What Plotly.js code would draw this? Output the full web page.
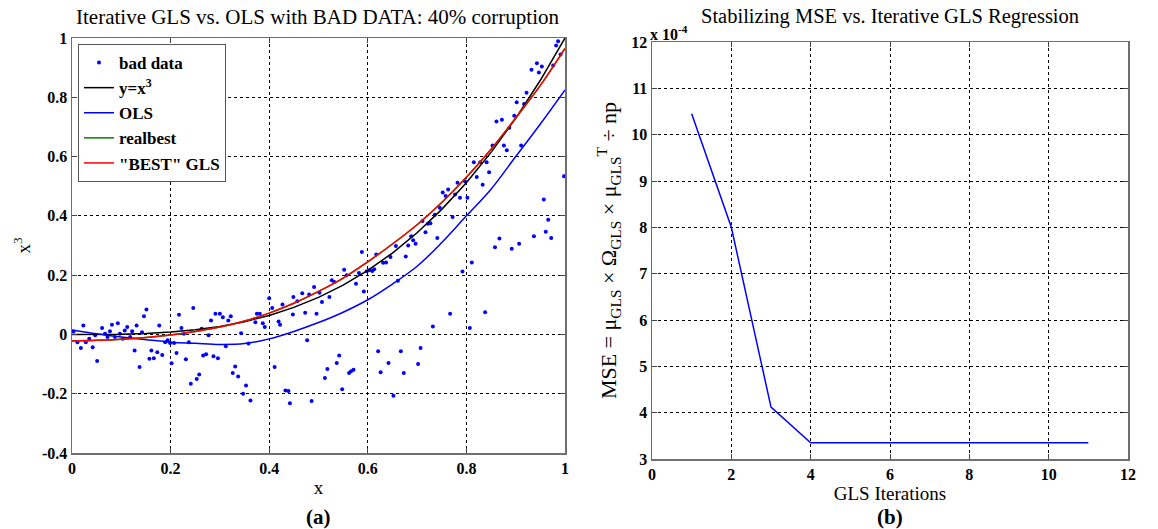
<!DOCTYPE html>
<html>
<head>
<meta charset="utf-8">
<script src="https://cdn.plot.ly/plotly-3.0.1.min.js"></script>
<style>html,body{margin:0;padding:0;background:#fff;}#chart{width:1158px;height:529px;}</style>
</head>
<body>
<div id="chart"></div>
<script>
// ---------- data ----------
const badDataPoints = [
[0.003,0.01],[0.011,-0.026],[0.018,-0.046],[0.023,0.03],[0.028,-0.026],[0.035,-0.015],[0.042,-0.043],[0.047,-0.003],[0.051,-0.09],[0.061,0.022],
[0.067,0.002],[0.072,-0.009],[0.077,0.011],[0.081,0.033],[0.087,-0.009],[0.093,0.038],[0.097,0.002],[0.103,-0.015],[0.107,0.013],[0.112,0.025],
[0.118,-0.009],[0.122,0.011],[0.127,-0.054],[0.131,0.03],[0.137,-0.11],[0.142,0.007],[0.146,0.061],[0.151,0.084],[0.157,-0.082],[0.161,-0.054],
[0.166,-0.08],[0.173,-0.06],[0.177,0.03],[0.183,-0.069],[0.189,-0.026],[0.194,-0.02],[0.199,-0.029],[0.202,-0.097],[0.207,-0.029],[0.212,-0.063],
[0.217,0.066],[0.222,0.022],[0.227,0.002],[0.231,-0.084],[0.237,-0.026],[0.241,-0.166],[0.246,0.089],[0.253,-0.15],[0.258,-0.135],[0.263,0.019],
[0.266,-0.071],[0.272,-0.067],[0.277,-0.003],[0.282,0.047],[0.287,-0.074],[0.291,0.07],[0.296,-0.08],[0.3,0.07],[0.306,0.058],[0.312,-0.04],
[0.317,0.047],[0.322,0.061],[0.326,-0.13],[0.331,-0.108],[0.337,-0.142],[0.343,0.004],[0.347,-0.2],[0.353,-0.172],[0.358,-0.031],[0.362,-0.223],
[0.372,0.041],[0.375,0.07],[0.381,0.07],[0.387,0.038],[0.391,0.025],
[0.4,0.122],[0.406,0.089],[0.411,-0.11],[0.419,0.044],[0.422,0.033],[0.427,0.101],[0.433,-0.189],[0.439,-0.191],[0.442,-0.232],[0.448,0.067],
[0.449,0.126],[0.457,0.112],[0.467,0.139],[0.473,0.073],[0.477,-0.02],[0.481,0.135],[0.486,-0.225],[0.491,0.16],[0.496,0.07],[0.502,0.141],
[0.507,0.109],[0.513,-0.147],[0.518,-0.117],[0.522,0.126],[0.527,0.183],[0.532,0.177],[0.537,-0.096],[0.542,-0.071],[0.548,-0.185],[0.552,0.218],
[0.557,0.2],[0.562,-0.13],[0.566,-0.124],[0.571,-0.119],[0.576,0.171],[0.582,0.207],[0.588,0.278],[0.592,0.145],[0.598,0.213],[0.604,0.217],
[0.609,0.214],[0.613,0.22],[0.617,0.27],[0.621,-0.057],[0.626,-0.128],[0.631,0.242],[0.637,0.243],[0.642,-0.096],[0.646,0.261],[0.652,-0.207],
[0.657,0.298],[0.661,0.181],[0.667,-0.057],[0.673,-0.13],[0.677,0.263],[0.682,0.3],[0.688,0.331],[0.692,0.318],[0.697,0.306],[0.702,-0.1],
[0.707,-0.046],[0.711,0.383],[0.717,0.345],[0.722,0.373],[0.727,0.375],[0.732,0.027],[0.736,0.404],[0.741,0.325],[0.746,0.427],[0.752,0.479],
[0.758,0.467],[0.763,0.489],[0.767,0.07],[0.772,0.396],
[0.777,0.472],[0.782,0.512],[0.787,0.461],[0.792,0.212],[0.797,0.517],[0.802,0.461],[0.807,0.022],[0.811,0.243],[0.815,0.581],[0.821,0.531],
[0.828,0.581],[0.833,0.505],[0.838,0.075],[0.841,0.581],[0.846,0.547],[0.853,0.637],[0.858,0.294],[0.861,0.718],[0.867,0.324],[0.872,0.724],
[0.876,0.637],[0.882,0.621],[0.887,0.697],[0.892,0.289],[0.897,0.738],[0.902,0.783],[0.907,0.306],[0.911,0.637],[0.917,0.777],[0.922,0.815],
[0.932,0.893],[0.937,0.331],[0.943,0.915],[0.947,0.884],[0.953,0.904],[0.957,0.455],[0.961,0.346],[0.966,0.387],[0.972,0.325],[0.976,0.907],
[0.982,0.975],[0.986,0.989],[0.991,0.944],[0.998,0.534]
];
const curveX   = [0,0.05,0.1,0.15,0.2,0.25,0.3,0.35,0.4,0.45,0.5,0.55,0.6,0.65,0.7,0.75,0.8,0.85,0.9,0.95,1];
const cubeY    = [0,0.0001,0.001,0.0034,0.008,0.0156,0.027,0.0429,0.064,0.0911,0.125,0.1664,0.216,0.2746,0.343,0.4219,0.512,0.6141,0.729,0.8574,1];
const olsY     = [0.015,0.002,-0.009,-0.018,-0.026,-0.030,-0.034,-0.031,-0.015,0.01,0.04,0.075,0.117,0.17,0.23,0.31,0.40,0.49,0.60,0.71,0.825];
const realbestY= [-0.022,-0.02,-0.016,-0.01,-0.002,0.01,0.025,0.045,0.072,0.105,0.145,0.19,0.245,0.305,0.37,0.445,0.53,0.625,0.73,0.84,0.965];
const bestGlsY = [-0.022,-0.02,-0.016,-0.01,-0.002,0.01,0.025,0.045,0.072,0.105,0.145,0.19,0.245,0.305,0.37,0.445,0.53,0.625,0.73,0.84,0.965];

const glsIterations = [1,2,3,4,5,6,7,8,9,10,11];
const mseTimes1e4   = [10.45,8.0,4.12,3.35,3.35,3.35,3.35,3.35,3.35,3.35,3.35];

const xTicksA = [0,0.2,0.4,0.6,0.8,1];
const xTickTextA = ['0','0.2','0.4','0.6','0.8','1'];
const yTicksA = [-0.4,-0.2,0,0.2,0.4,0.6,0.8,1];
const yTickTextA = ['-0.4','-0.2','0','0.2','0.4','0.6','0.8','1'];
const xTicksB = [0,2,4,6,8,10,12];
const xTickTextB = ['0','2','4','6','8','10','12'];
const yTicksB = [3,4,5,6,7,8,9,10,11,12];
const yTickTextB = ['3','4','5','6','7','8','9','10','11','12'];

// ---------- plot ----------
const SERIF = 'Liberation Serif, Times New Roman, serif';
const tickFont = {family: SERIF, size: 16, color: '#000', weight: 'bold'};

const traces = [
  {x: badDataPoints.map(p=>p[0]), y: badDataPoints.map(p=>p[1]), type:'scatter', mode:'markers',
   name:'bad data', marker:{color:'#0000ff', size:4}, xaxis:'x', yaxis:'y'},
  {x: curveX, y: cubeY, type:'scatter', mode:'lines', name:'y=x<sup>3</sup>',
   line:{color:'#000000', width:1.5}, xaxis:'x', yaxis:'y'},
  {x: curveX, y: olsY, type:'scatter', mode:'lines', name:'OLS',
   line:{color:'#0000ff', width:1.5, shape:'spline'}, xaxis:'x', yaxis:'y'},
  {x: curveX, y: realbestY, type:'scatter', mode:'lines', name:'realbest',
   line:{color:'#008000', width:1.5, shape:'spline'}, xaxis:'x', yaxis:'y'},
  {x: curveX, y: bestGlsY, type:'scatter', mode:'lines', name:'"BEST" GLS',
   line:{color:'#ff0000', width:1.5, shape:'spline'}, xaxis:'x', yaxis:'y'},
  {x: glsIterations, y: mseTimes1e4, type:'scatter', mode:'lines', name:'MSE',
   line:{color:'#0000ff', width:1.5}, xaxis:'x2', yaxis:'y2', showlegend:false}
];

const axisCommon = {
  showline:true, linecolor:'#6f6f6f', linewidth:1.5, mirror:'allticks',
  ticks:'inside', ticklen:5, tickcolor:'#444', tickwidth:1,
  showgrid:true, gridcolor:'#000', griddash:'dot', gridwidth:1,
  zeroline:false, tickfont: tickFont, tickmode:'array', fixedrange:true
};

const layout = {
  width:1158, height:529,
  margin:{l:0, r:0, t:0, b:0},
  paper_bgcolor:'#fff', plot_bgcolor:'#fff',
  showlegend:true,
  legend:{x:78/1158, y:1-44/529, xanchor:'left', yanchor:'top',
          bgcolor:'#fff', bordercolor:'#555', borderwidth:1,
          font:{family:SERIF, size:17, color:'#000', weight:'bold'}},
  xaxis: Object.assign({}, axisCommon, {domain:[72/1158, 565/1158], range:[0,1], anchor:'y',
          tickvals:xTicksA, ticktext:xTickTextA,
          title:{text:'x', font:{family:SERIF, size:19, color:'#000'}, standoff:5}}),
  yaxis: Object.assign({}, axisCommon, {domain:[1-453/529, 1-38/529], range:[-0.4,1], anchor:'x',
          tickvals:yTicksA, ticktext:yTickTextA,
          title:{text:'x<sup>3</sup>', font:{family:SERIF, size:19, color:'#000'}, standoff:6}}),
  xaxis2: Object.assign({}, axisCommon, {domain:[652/1158, 1128/1158], range:[0,12], anchor:'y2',
          tickvals:xTicksB, ticktext:xTickTextB,
          title:{text:'GLS Iterations', font:{family:SERIF, size:19, color:'#000'}, standoff:3}}),
  yaxis2: Object.assign({}, axisCommon, {domain:[1-459/529, 1-42/529], range:[3,12], anchor:'x2',
          tickvals:yTicksB, ticktext:yTickTextB,
          title:{text:'MSE = μ<sub>GLS</sub> × Ω<sub>GLS</sub> × μ<sub>GLS</sub><sup>T</sup> ÷ np',
                 font:{family:SERIF, size:22, color:'#000'}, standoff:8}}),
  annotations:[
    {text:'Iterative GLS vs. OLS with BAD DATA: 40% corruption', xref:'paper', yref:'paper',
     x:318/1158, y:1-17/529, xanchor:'center', yanchor:'middle', showarrow:false,
     font:{family:SERIF, size:21, color:'#000'}},
    {text:'Stabilizing MSE vs. Iterative GLS Regression', xref:'paper', yref:'paper',
     x:890/1158, y:1-17/529, xanchor:'center', yanchor:'middle', showarrow:false,
     font:{family:SERIF, size:20.5, color:'#000'}},
    {text:'<b>x 10<sup>-4</sup></b>', xref:'paper', yref:'paper',
     x:648/1158, y:1-33/529, xanchor:'left', yanchor:'middle', showarrow:false,
     font:{family:SERIF, size:16, color:'#000'}},
    {text:'<b>(a)</b>', xref:'paper', yref:'paper',
     x:318/1158, y:1-517/529, xanchor:'center', yanchor:'middle', showarrow:false,
     font:{family:SERIF, size:21, color:'#000'}},
    {text:'<b>(b)</b>', xref:'paper', yref:'paper',
     x:890/1158, y:1-517/529, xanchor:'center', yanchor:'middle', showarrow:false,
     font:{family:SERIF, size:21, color:'#000'}}
  ]
};

Plotly.newPlot('chart', traces, layout, {staticPlot:true, displayModeBar:false});
</script>
</body>
</html>
